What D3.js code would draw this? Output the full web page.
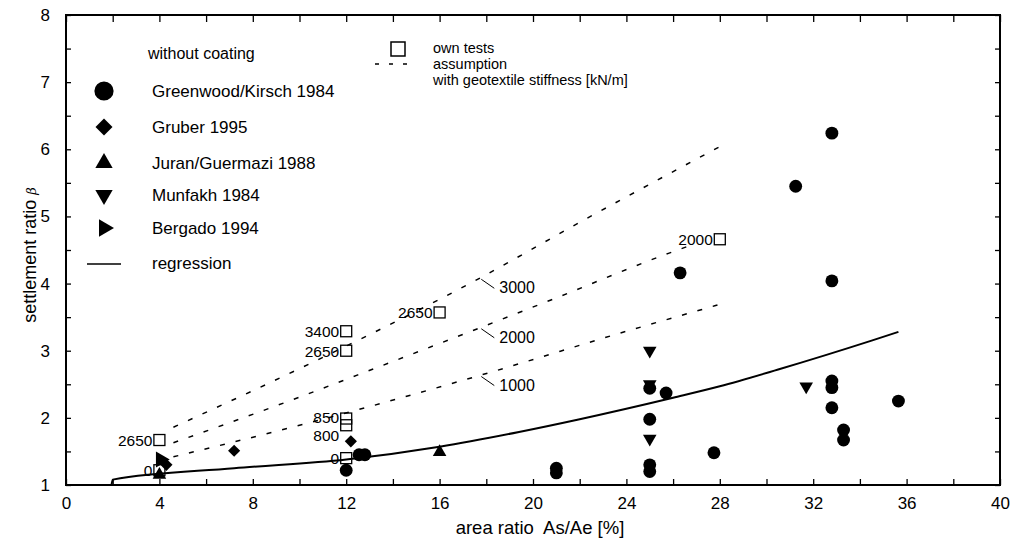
<!DOCTYPE html>
<html>
<head>
<meta charset="utf-8">
<script src="https://cdn.jsdelivr.net/npm/d3@7"></script>
<style>
  body { margin: 0; background: #fff; }
  text { font-family: Arial, "Liberation Sans", sans-serif; fill: #000; }
</style>
</head>
<body>
<div id="chart"></div>
<script>
// data
const greenwoodX = [12, 12.55, 12.8, 21, 21, 25, 25, 25, 25, 25.7, 26.3, 27.75, 31.25, 32.8, 32.8, 32.8, 32.8, 32.8, 33.3, 33.3, 35.65];
const greenwoodY = [1.22, 1.45, 1.45, 1.18, 1.25, 1.2, 1.3, 1.98, 2.44, 2.37, 4.16, 1.48, 5.45, 6.24, 4.04, 2.55, 2.45, 2.15, 1.82, 1.67, 2.25];
const gruberX = [4.3, 7.2, 12.2];
const gruberY = [1.3, 1.51, 1.65];
const juranX = [4, 16];
const juranY = [1.15, 1.49];
const munfakhX = [25, 25, 25, 31.7];
const munfakhY = [3.0, 2.5, 1.69, 2.47];
const bergadoX = [4.05];
const bergadoY = [1.38];

const ownX = [4, 4, 12, 12, 12, 12, 12, 16, 28];
const ownY = [1.22, 1.67, 1.40, 1.89, 1.99, 3.0, 3.29, 3.57, 4.66];
const ownLabels = ["0", "2650", "0", "800", "850", "2650", "3400", "2650", "2000"];

const regressionX = [1.95, 2, 7.2, 12, 16, 19.4, 22, 26, 28, 30.5, 34.5, 35.65];
const regressionY = [1.0, 1.08, 1.25, 1.38, 1.57, 1.79, 1.98, 2.3, 2.47, 2.72, 3.15, 3.28];

const stiffLabels = ["3000", "2000", "1000"];
const stiffX = [
  [4.6, 10.1, 17.5, 22.2, 28],
  [4.6, 9.7, 12.5, 20.8, 25.8, 27.0],
  [4.6, 9.9, 17.8, 24.2, 27.9]
];
const stiffY = [
  [1.86, 2.75, 4.04, 4.95, 6.04],
  [1.63, 2.27, 2.64, 3.76, 4.45, 4.6],
  [1.42, 1.88, 2.64, 3.31, 3.68]
];

const xTicks = d3.range(0, 41, 2);
const yTicks = d3.range(1, 8.01, 0.5);

// layout
const W = 1012, H = 540;
const x0 = 66, x1 = 1000, yTop = 15, yBot = 485;

const svg = d3.select("#chart").append("svg")
  .attr("width", W).attr("height", H);
svg.append("rect").attr("width", W).attr("height", H).attr("fill", "#fff");

const x = d3.scaleLinear().domain([0, 40]).range([x0, x1]);
const y = d3.scaleLinear().domain([1, 8]).range([yBot, yTop]);

// axes, ticks pointing inward
svg.append("g").attr("transform", `translate(0,${yBot})`)
  .call(d3.axisBottom(x).tickValues(xTicks).tickSize(-6).tickPadding(12)
    .tickFormat(d => d % 4 === 0 ? d : ""));
svg.append("g").attr("transform", `translate(0,${yTop})`)
  .call(d3.axisTop(x).tickValues(xTicks).tickSize(-7).tickFormat(""));
svg.append("g").attr("transform", `translate(${x0},0)`)
  .call(d3.axisLeft(y).tickValues(yTicks).tickSize(-5).tickPadding(16)
    .tickFormat(d => Number.isInteger(d) ? d : ""));
svg.append("g").attr("transform", `translate(${x1},0)`)
  .call(d3.axisRight(y).tickValues(yTicks).tickSize(-5).tickFormat(""));

svg.selectAll(".domain").remove();
svg.selectAll(".tick line").attr("stroke", "#000").attr("stroke-width", 1.3);
svg.selectAll(".tick text").style("font-size", "17px").attr("fill", "#000");

svg.append("rect")
  .attr("x", x0).attr("y", yTop).attr("width", x1 - x0).attr("height", yBot - yTop)
  .attr("fill", "none").attr("stroke", "#000").attr("stroke-width", 2);

// axis titles
svg.append("text")
  .attr("x", 540).attr("y", 534).attr("text-anchor", "middle")
  .style("font-size", "18.5px").attr("xml:space", "preserve")
  .text("area ratio  As/Ae [%]");

const yt = svg.append("text")
  .attr("transform", "translate(36,255) rotate(-90)")
  .attr("text-anchor", "middle").style("font-size", "18px");
yt.append("tspan").text("settlement ratio  ");
yt.append("tspan").style("font-style", "italic").style("font-size", "13px")
  .attr("font-family", "DejaVu Serif").text("β");

// lines
const line = d3.line().x(d => x(d[0])).y(d => y(d[1])).curve(d3.curveMonotoneX);

stiffX.forEach((xs, i) => {
  svg.append("path")
    .datum(xs.map((v, j) => [v, stiffY[i][j]]))
    .attr("d", line)
    .attr("fill", "none").attr("stroke", "#000")
    .attr("stroke-width", 1.5).attr("stroke-dasharray", "5,11");
});

svg.append("path")
  .datum(regressionX.map((v, j) => [v, regressionY[j]]))
  .attr("d", line)
  .attr("fill", "none").attr("stroke", "#000").attr("stroke-width", 2);

// stiffness annotations with leader lines
const leadAt = 17.7;
stiffX.forEach((xs, i) => {
  const ys = stiffY[i];
  let k = 0;
  while (xs[k + 1] < leadAt) k++;
  const t = (leadAt - xs[k]) / (xs[k + 1] - xs[k]);
  const py = y(ys[k] + t * (ys[k + 1] - ys[k]));
  const px = x(leadAt);
  svg.append("line")
    .attr("x1", px + 2).attr("y1", py + 1).attr("x2", px + 15).attr("y2", py + 10)
    .attr("stroke", "#000").attr("stroke-width", 1);
  svg.append("text")
    .attr("x", px + 20).attr("y", py + 15)
    .style("font-size", "16px").text(stiffLabels[i]);
});

// markers
function sym(type, size) { return d3.symbol().type(type).size(size)(); }

function drawPoints(xs, ys, path, rot) {
  svg.append("g").selectAll("path")
    .data(xs.map((v, j) => [v, ys[j]]))
    .join("path")
    .attr("d", path)
    .attr("transform", d => `translate(${x(d[0])},${y(d[1])}) rotate(${rot})`)
    .attr("fill", "#000");
}

drawPoints(greenwoodX, greenwoodY, sym(d3.symbolCircle, 130), 0);
drawPoints(gruberX, gruberY, sym(d3.symbolSquare, 74), 45);
drawPoints(juranX, juranY, sym(d3.symbolTriangle, 80), 0);
drawPoints(munfakhX, munfakhY, sym(d3.symbolTriangle, 80), 180);
drawPoints(bergadoX, bergadoY, sym(d3.symbolTriangle, 110), 90);

// own tests (open squares)
const own = ownX.map((v, j) => ({ x: v, y: ownY[j], label: ownLabels[j] }));
const labelDy = { 3: 10, 4: -2 };
svg.append("g").selectAll("rect")
  .data(own).join("rect")
  .attr("x", d => x(d.x) - 5.5).attr("y", d => y(d.y) - 5.5)
  .attr("width", 11).attr("height", 11)
  .attr("fill", "none").attr("stroke", "#000").attr("stroke-width", 1.3);
svg.append("g").selectAll("text")
  .data(own).join("text")
  .attr("x", d => x(d.x) - 7).attr("y", (d, i) => y(d.y) + 6 + (labelDy[i] || 0))
  .attr("text-anchor", "end").style("font-size", "15.5px")
  .text(d => d.label);

// legend left
const legL = svg.append("g");
legL.append("text").attr("x", 148).attr("y", 59).style("font-size", "16px").text("without coating");
const legItems = [
  { name: "Greenwood/Kirsch 1984", p: sym(d3.symbolCircle, 290), rot: 0 },
  { name: "Gruber 1995", p: sym(d3.symbolSquare, 145), rot: 45 },
  { name: "Juran/Guermazi 1988", p: sym(d3.symbolTriangle, 130), rot: 0 },
  { name: "Munfakh 1984", p: sym(d3.symbolTriangle, 130), rot: 180 },
  { name: "Bergado 1994", p: sym(d3.symbolTriangle, 130), rot: 90 }
];
const legYs = [91, 127, 163, 195, 228];
legItems.forEach((it, i) => {
  legL.append("path").attr("d", it.p)
    .attr("transform", `translate(104,${legYs[i]}) rotate(${it.rot})`).attr("fill", "#000");
  legL.append("text").attr("x", 152).attr("y", legYs[i] + 6).style("font-size", "17px").text(it.name);
});
legL.append("line").attr("x1", 87).attr("x2", 121).attr("y1", 264).attr("y2", 264)
  .attr("stroke", "#000").attr("stroke-width", 1.5);
legL.append("text").attr("x", 152).attr("y", 269).style("font-size", "17px").text("regression");

// legend right
const legR = svg.append("g");
legR.append("rect").attr("x", 391).attr("y", 42).attr("width", 14).attr("height", 14)
  .attr("fill", "none").attr("stroke", "#000").attr("stroke-width", 1.5);
legR.append("text").attr("x", 433).attr("y", 53).style("font-size", "14.5px").text("own tests");
legR.append("line").attr("x1", 375).attr("x2", 416).attr("y1", 64).attr("y2", 64)
  .attr("stroke", "#000").attr("stroke-width", 1.4).attr("stroke-dasharray", "4,10");
legR.append("text").attr("x", 433).attr("y", 69).style("font-size", "14.5px").text("assumption");
legR.append("text").attr("x", 433).attr("y", 85).style("font-size", "14.5px").text("with geotextile stiffness [kN/m]");
</script>
</body>
</html>
